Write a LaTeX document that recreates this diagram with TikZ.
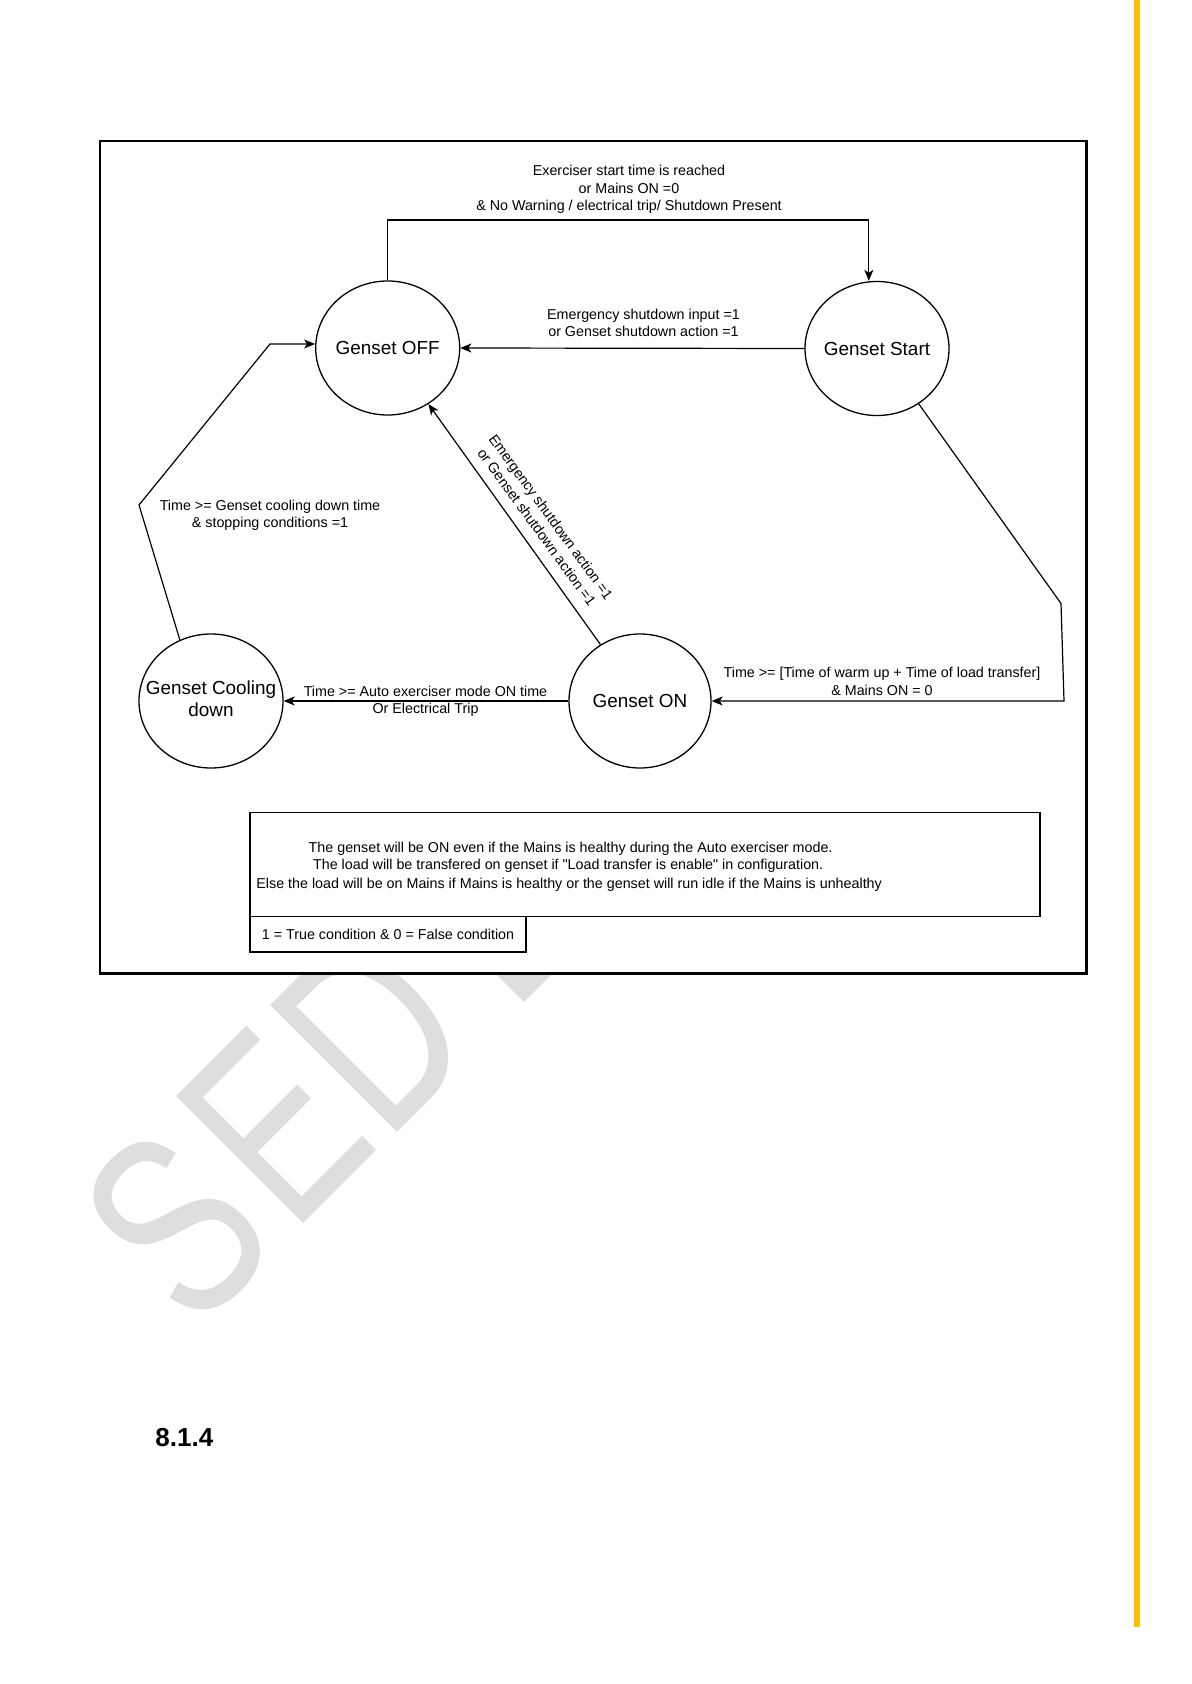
\documentclass[tikz,border=0pt]{standalone}
\usepackage{fontspec}
\setmainfont{Liberation Sans}[Ligatures=TeXOff]
\usepackage{graphicx}
\usetikzlibrary{shapes.geometric,arrows.meta}
\definecolor{wmgray}{RGB}{222,222,222}
\definecolor{barorange}{RGB}{255,192,0}
\newcommand\lblfont{\fontsize{7.15}{8.7}\selectfont}
\newcommand\statefont{\fontsize{9.45}{11}\selectfont}
\newcommand\wmfont{\fontsize{130.5}{130}\selectfont}
\newcommand\zw[2][-0.8pt]{\raisebox{#1}{\makebox[0pt]{#2}}}
\begin{document}
\begin{tikzpicture}[x=0.5pt,y=-0.5pt,
  gstate/.style={draw, ellipse, line width=0.65pt, minimum width=72pt, minimum height=67pt, inner sep=0pt, font=\statefont},
  conn/.style={line width=0.6pt},
  arr/.style={conn, -{Stealth[length=5.5pt,width=4.5pt,inset=1.5pt]}},
  lbl/.style={inner sep=0pt, font=\lblfont, align=center},
  wm/.style={text=wmgray, font=\wmfont, inner sep=0pt, rotate=45},
  notebox/.style={draw, line width=0.6pt, inner sep=0pt}
]
\useasboundingbox (0,0) rectangle (1191,1684);
\fill[white] (0,0) rectangle (1191,1684);

% watermark
\node[wm] (wmS) at (176,1226) {\scalebox{0.73}[1]{S}};
\node[wm] (wmE) at (274.3,1126.5) {\scalebox{0.73}[1]{E}};
\node[wm] (wmD) at (371.5,1031.3) {\scalebox{0.73}[1]{D}};
\node[wm] (wmE2) at (495.3,905.2) {\scalebox{0.73}[1]{E}};

% frame
\node[draw, fill=white, line width=1.1pt, minimum width=493.25pt, minimum height=416.4pt, inner sep=0pt] (frame) at (593.25,557.1) {};

% states
\node[gstate] (off) at (387.7,348) {\zw{Genset OFF}};
\node[gstate] (start) at (877,348.5) {\zw{Genset Start}};
\node[gstate, minimum width=71pt] (on) at (640,701) {\zw{Genset ON}};
\node[gstate] (cool) at (211,701) {\zw[-1.8pt]{\begin{tabular}{@{}c@{}}Genset Cooling\\down\end{tabular}}};

% connectors
\coordinate (t1) at (868.8,220);
\draw[arr] (off.north) |- (t1) -- (t1 |- start.north);
\draw[arr] (start.west) -- (off.east);
\coordinate (r1) at (1061,603.5);
\coordinate (r2) at (1064,701);
\draw[arr] (start.-53) -- (r1) -- (r2) -- (on.east);
\draw[arr] (on.west) -- (cool.east);
\coordinate (l1) at (139,505);
\coordinate (l2) at (270,344);
\draw[arr] (cool.117) -- (l1) -- (l2) -- (l2 -| off.west);
\draw[arr] (on.125) -- (off.-54);

% labels
\node[lbl] (lblTop) at (629,189.5) {Exerciser start time is reached\\or Mains ON =0\\\& No Warning / electrical trip/ Shutdown Present};
\node[lbl] (lblEsd) at (643.5,323) {Emergency shutdown input =1\\or Genset shutdown action =1};
\node[lbl] (lblCool) at (270,515.5) {Time >= Genset cooling down time\\\& stopping conditions =1};
\node[lbl, rotate=-54] (lblDiag) at (544,522) {Emergency shutdown action =1\\or Genset shutdown action =1};
\node[lbl] (lblAuto) at (425.5,701.5) {Time >= Auto exerciser mode ON time\\Or Electrical Trip};
\node[lbl] (lblWarm) at (882,681.5) {Time >= [Time of warm up + Time of load transfer]\\\& Mains ON = 0};

% notes
\node[notebox, minimum width=395pt, minimum height=52.2pt] (notes) at (645,864.5) {};
\node[lbl, anchor=west] (n1) at (308.3,848.3) {The genset will be ON even if the Mains is healthy during the Auto exerciser mode.};
\node[lbl, anchor=west] (n2) at (312.7,866) {The load will be transfered on genset if "Load transfer is enable" in configuration.};
\node[lbl, anchor=west] (n3) at (256,884.3) {Else the load will be on Mains if Mains is healthy or the genset will run idle if the Mains is unhealthy};
\node[notebox, minimum width=138pt, minimum height=17.65pt, font=\lblfont] (legend) at (388,934.4) {1 = True condition \& 0 = False condition};

% heading
\node[anchor=base west, inner sep=0pt, font=\fontsize{13}{16}\selectfont\bfseries] (sec) at (155,1446.7) {8.1.4};

% side bar
\fill[barorange] (1134,0) rectangle (1140,1627);
\end{tikzpicture}
\end{document}
